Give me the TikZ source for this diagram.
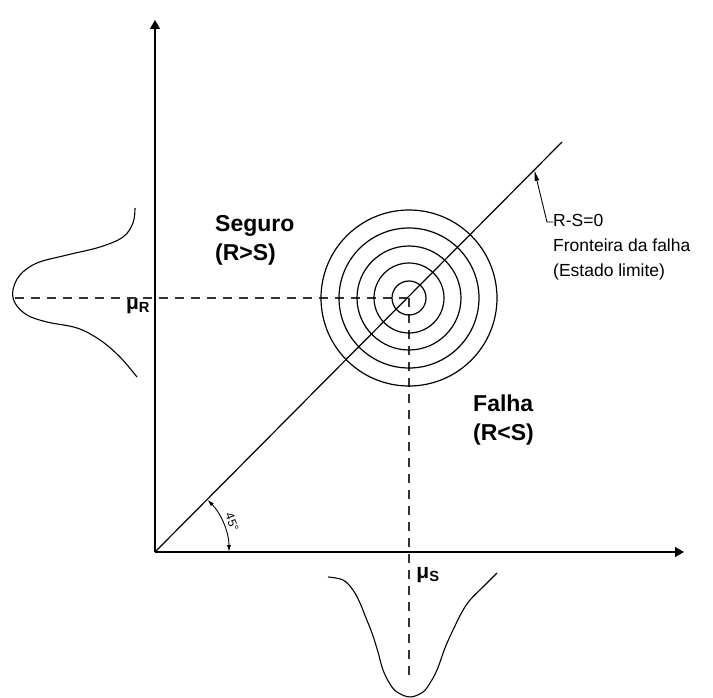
\documentclass[tikz,border=0pt]{standalone}
\usepackage{fontspec}
\setmainfont{Liberation Sans}
\usetikzlibrary{arrows.meta,calc,positioning}
\tikzset{
  axisline/.style={-{Triangle[length=9pt,width=10pt]},line width=1.3pt},
  guideline/.style={dash pattern=on 9pt off 7pt,line width=1.1pt,black!80},
  limitline/.style={line width=1.2pt},
  ring/.style={line width=1.2pt},
  pdfcurve/.style={line width=1.1pt,smooth,tension=0.6},
  regionlabel/.style={font=\fontsize{23}{29}\selectfont\bfseries,align=left,inner sep=0pt},
  notelabel/.style={font=\fontsize{17.5}{25}\selectfont,align=left,inner sep=0pt},
  meanlabel/.style={font=\fontsize{21}{21}\selectfont\bfseries,inner sep=0pt},
  anglelabel/.style={font=\fontsize{12}{12}\selectfont,inner sep=0pt},
  anglearrow/.style={{Latex[length=7pt,width=4pt]}-{Latex[length=7pt,width=4pt]},line width=0.9pt},
  notearrow/.style={-{Latex[length=11pt,width=5pt]},line width=0.9pt}
}

\begin{document}
\begin{tikzpicture}[x=1pt,y=-1pt]
  \useasboundingbox (0,0) rectangle (713,698);
  \coordinate (O) at (155,552);
  \coordinate (ytop) at (155,20);
  \coordinate (xend) at (684,552);
  \coordinate (lim) at (562,142);
  \coordinate (ctr) at (409,298);
  \coordinate (muRend) at (15,298);
  \coordinate (muSend) at (409,675);
  \coordinate (hit) at ($(O)!0.932!(lim)$);
  \coordinate (tick) at (547,222);
  \node[regionlabel,anchor=west] (safe) at (215,240) {Seguro\\(R>S)};
  \node[regionlabel,anchor=west] (fail) at (473,420) {Falha\\(R<S)};
  \node[notelabel,anchor=west] (note) at (553,247) {R-S=0\\Fronteira da falha\\(Estado limite)};
  \node[meanlabel] (muR) at (138,306) {μ\textsubscript{R}};
  \node[meanlabel] (muS) at (428,575) {μ\textsubscript{S}};
  \node[anglelabel,rotate=-70] (ang) at (232,522) {45°};
  \draw[guideline] (muRend) -- (ctr);
  \draw[guideline] (ctr) -- (muSend);
  \draw[axisline] (O) -- (ytop);
  \draw[axisline] (O) -- (xend);
  \draw[limitline] (O) -- (lim);
  \foreach \r in {17,35,52,70,88}
    \draw[ring] (ctr) circle (\r pt);
  \draw[anglearrow] ($(O)+(74,0)$) arc[start angle=0,end angle=45,radius=74pt];
  \draw[notearrow] (note.west |- tick) -- (tick) -- (hit);
  \draw[pdfcurve] plot coordinates {(135,208) (133,223) (123,237) (100,247) (67,255)
    (37,263) (20,275) (13,290) (15,303) (27,315) (47,322) (77,328) (100,340)
    (120,357) (137,377)};
  \draw[pdfcurve] plot coordinates {(328,577) (343,580) (353,590) (360,603) (366,618)
    (372,633) (378,652) (383,670) (390,684) (397,692) (410,697) (423,692) (430,683)
    (437,670) (445,648) (453,630) (462,612) (470,600) (483,587) (497,573)};
\end{tikzpicture}
\end{document}
